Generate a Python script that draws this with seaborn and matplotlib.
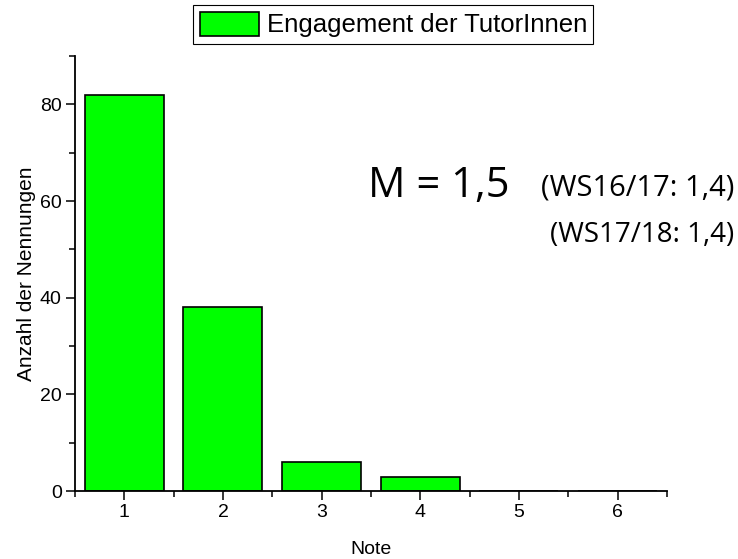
import pandas as pd
import matplotlib
matplotlib.use('Agg')
import matplotlib.pyplot as plt
from matplotlib.ticker import MultipleLocator
import seaborn as sns

# Daten: Notenverteilung "Engagement der TutorInnen"
noten = [1, 2, 3, 4, 5, 6]
anzahl = [82, 38, 6, 3, 0, 0]
legend_label = 'Engagement der TutorInnen'
mean_text = 'M = 1,5'
prev_text_1 = '(WS16/17: 1,4)'
prev_text_2 = '(WS17/18: 1,4)'

data = pd.DataFrame({'Note': noten, 'Anzahl': anzahl})

sns.set_style('ticks')
plt.rcParams['font.family'] = ['Liberation Sans', 'DejaVu Sans']
plt.rcParams.update({'text.color': 'black', 'axes.labelcolor': 'black',
                     'xtick.color': 'black', 'ytick.color': 'black',
                     'axes.edgecolor': 'black'})

fig = plt.figure(figsize=(7.38, 5.59), dpi=100)
ax = fig.add_axes([0.1016, 0.1216, 0.802, 0.778])

sns.barplot(data=data, x='Note', y='Anzahl', native_scale=True, width=0.8,
            color='#00ff00', saturation=1, edgecolor='black', linewidth=1.2, ax=ax)

ax.set_xlim(0.5, 6.5)
ax.set_ylim(0, 90)
ax.set_xticks(noten)
ax.xaxis.set_minor_locator(MultipleLocator(1, offset=0.5))
ax.yaxis.set_major_locator(MultipleLocator(20))
ax.yaxis.set_minor_locator(MultipleLocator(10))
ax.tick_params(which='major', length=6.5, width=1.1, labelsize=14, pad=3, direction='out')
ax.tick_params(which='minor', length=4, width=1.1, direction='out')

sns.despine(ax=ax)
for side in ['left', 'bottom']:
    ax.spines[side].set_linewidth(1.3)

ax.set_xlabel('Note', fontsize=14, labelpad=14)
ax.set_ylabel('Anzahl der Nennungen', fontsize=15, labelpad=3)

fig.legend(handles=[ax.patches[0]], labels=[legend_label], loc='center',
           bbox_to_anchor=(0.533, 0.956), fontsize=18.5, frameon=True, fancybox=False,
           edgecolor='black', framealpha=1, handlelength=2.3, handleheight=1.05,
           borderpad=0.25, handletextpad=0.3, borderaxespad=0)
fig.legends[0].get_frame().set_linewidth(0.8)

fig.text(0.499, 0.647, mean_text, fontsize=30, family=['Open Sans'], va='baseline')
fig.text(0.995, 0.651, prev_text_1, fontsize=21, family=['Open Sans'], va='baseline', ha='right')
fig.text(0.995, 0.567, prev_text_2, fontsize=20, family=['Open Sans'], va='baseline', ha='right')

fig.savefig('out.png', dpi=100)
